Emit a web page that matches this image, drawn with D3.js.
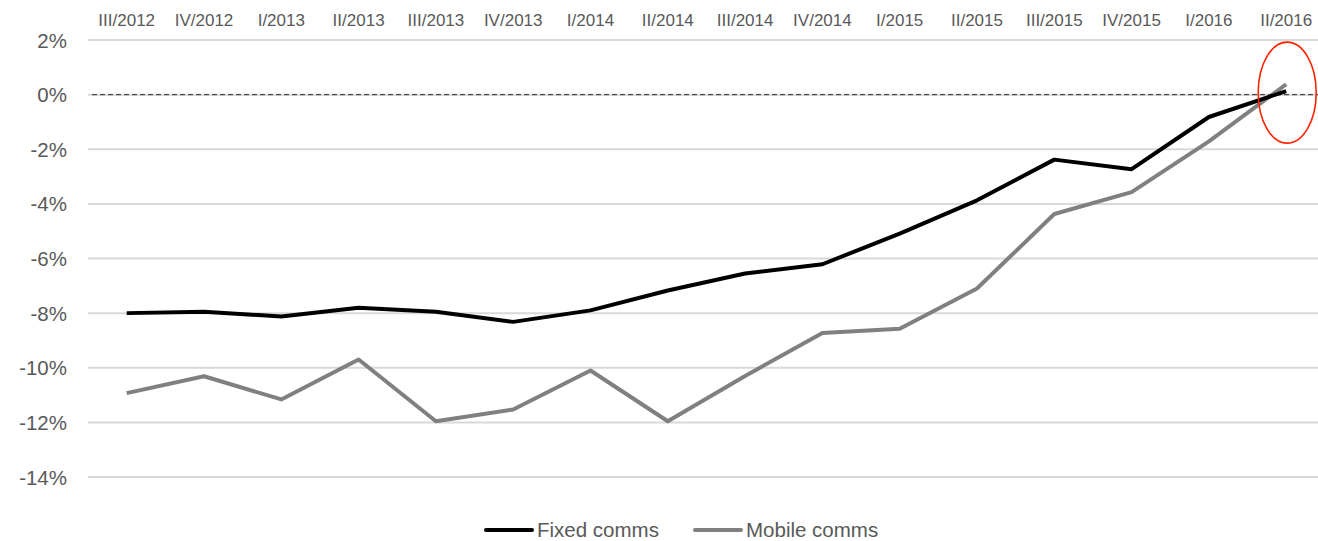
<!DOCTYPE html>
<html>
<head>
<meta charset="utf-8">
<script src="https://cdn.jsdelivr.net/npm/d3@7"></script>
<style>
  html, body { margin: 0; padding: 0; background: #fff; }
  svg { display: block; font-family: "Liberation Sans", Arial, sans-serif; }
</style>
</head>
<body>
<svg id="chart" width="1318" height="541"></svg>
<script>
// Quarterly year-on-year change in communications revenue
const quarters = ["III/2012", "IV/2012", "I/2013", "II/2013", "III/2013", "IV/2013",
  "I/2014", "II/2014", "III/2014", "IV/2014", "I/2015", "II/2015", "III/2015",
  "IV/2015", "I/2016", "II/2016"];
const fixedComms = [-8.0, -7.95, -8.12, -7.8, -7.95, -8.32, -7.9, -7.17, -6.55, -6.21,
  -5.09, -3.87, -2.38, -2.73, -0.82, 0.13];
const mobileComms = [-10.93, -10.31, -11.16, -9.7, -11.96, -11.53, -10.1, -11.96, -10.3, -8.73,
  -8.57, -7.1, -4.37, -3.57, -1.71, 0.38];
const yTicks = [2, 0, -2, -4, -6, -8, -10, -12, -14];
const seriesNames = ["Fixed comms", "Mobile comms"];
const seriesColors = ["#000000", "#808080"];

const svg = d3.select("#chart");
const W = 1318;

const x = d3.scalePoint().domain(quarters).range([126.7, 1286.2]);
const y = d3.scaleLinear().domain([-14, 2]).range([477, 40]);

// horizontal gridlines
svg.append("g").selectAll("line")
  .data(yTicks.filter(d => d !== 0))
  .join("line")
  .attr("x1", 88).attr("x2", W)
  .attr("y1", d => y(d)).attr("y2", d => y(d))
  .attr("stroke", "#d9d9d9").attr("stroke-width", 2);

// zero line: light base with dark dashes on top
svg.append("line")
  .attr("x1", 88).attr("x2", W)
  .attr("y1", y(0)).attr("y2", y(0))
  .attr("stroke", "#d9d9d9").attr("stroke-width", 2);
svg.append("line")
  .attr("x1", 92).attr("x2", W)
  .attr("y1", y(0)).attr("y2", y(0))
  .attr("stroke", "#4a4a4a").attr("stroke-width", 1.4)
  .attr("stroke-dasharray", "5,3");

// y-axis labels
svg.append("g").selectAll("text")
  .data(yTicks)
  .join("text")
  .attr("x", 67).attr("y", d => y(d) + 7.5)
  .attr("text-anchor", "end")
  .attr("font-size", "20.5px")
  .attr("fill", "#595959")
  .text(d => d + "%");

// category labels along the top
svg.append("g").selectAll("text")
  .data(quarters)
  .join("text")
  .attr("x", d => x(d)).attr("y", 26)
  .attr("text-anchor", "middle")
  .attr("font-size", "17px")
  .attr("fill", "#595959")
  .text(d => d);

// series lines
const line = d3.line()
  .x((d, i) => x(quarters[i]))
  .y(d => y(d));

[mobileComms, fixedComms].forEach((vals, k) => {
  const color = k === 0 ? seriesColors[1] : seriesColors[0];
  svg.append("path")
    .datum(vals)
    .attr("d", line)
    .attr("fill", "none")
    .attr("stroke", color)
    .attr("stroke-width", 4)
    .attr("stroke-linejoin", "round")
    .attr("stroke-linecap", "butt");
});

// highlight ring around the latest quarter
svg.append("ellipse")
  .attr("cx", x("II/2016") + 1)
  .attr("cy", y(0) - 2)
  .attr("rx", 29).attr("ry", 50.5)
  .attr("fill", "none")
  .attr("stroke", "#ff2200")
  .attr("stroke-width", 1.6);

// legend
const legendItems = [
  { name: seriesNames[0], color: seriesColors[0], x0: 486 },
  { name: seriesNames[1], color: seriesColors[1], x0: 695 }
];
const lg = svg.append("g");
legendItems.forEach(it => {
  lg.append("line")
    .attr("x1", it.x0).attr("x2", it.x0 + 46)
    .attr("y1", 530).attr("y2", 530)
    .attr("stroke", it.color).attr("stroke-width", 4)
    .attr("stroke-linecap", "round");
  lg.append("text")
    .attr("x", it.x0 + 51).attr("y", 537)
    .attr("font-size", "20.5px")
    .attr("fill", "#595959")
    .text(it.name);
});
</script>
</body>
</html>
